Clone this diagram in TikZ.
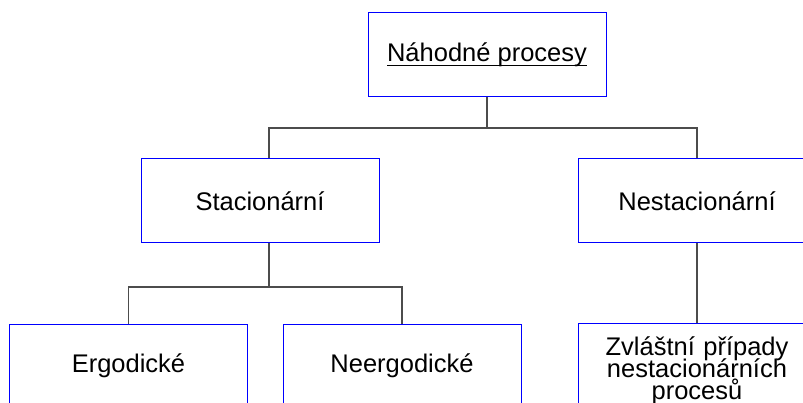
\documentclass[tikz,border=0pt]{standalone}
\usepackage{fontspec}
\setmainfont{Liberation Sans}
\newcommand{\ulinetext}[1]{\setbox0\hbox{#1}\rlap{\rule[-4.6pt]{\wd0}{1.8pt}}\box0}
\newcommand{\boxfont}{\fontsize{25.5}{22}\selectfont\lineskiplimit=-100pt\relax}
\begin{document}
\begin{tikzpicture}[x=1pt,y=-1pt,
  box/.style={draw=blue, line width=1pt, rectangle, minimum width=238pt, minimum height=84pt,
    inner sep=0pt, align=center, font=\boxfont},
  boxtext/.style={inner sep=0pt, align=center, font=\boxfont, text width=230pt},
  conn/.style={draw=black!70, line width=1.2pt}]
\useasboundingbox (0,0) rectangle (803,403);
\node[box] (top) at (487,55) {\ulinetext{Náhodné procesy}};
\node[box] (stac) at (260,201) {Stacionární};
\node[box] (nest) at (697,201) {Nestacionární};
\node[box] (erg) at (128.5,366) {Ergodické};
\node[box] (neerg) at (402,366) {Neergodické};
\node[box] (zvl) at (697,365) {};
\node[boxtext] (zvltext) at (697,371) {Zvláštní případy\\nestacionárních\\procesů};
\coordinate (bus1) at (0,128);
\coordinate (bus2) at (0,287);
\coordinate (sx) at (269,0);
\draw[conn] (top.south) -- (top.south |- bus1);
\draw[conn] (stac.north -| sx) |- (bus1 -| nest.north) -- (nest.north);
\draw[conn] (stac.south -| sx) -- (sx |- bus2);
\draw[conn] (erg.north) |- (bus2 -| neerg.north) -- (neerg.north);
\draw[conn] (nest.south) -- (zvl.north);
\end{tikzpicture}
\end{document}
